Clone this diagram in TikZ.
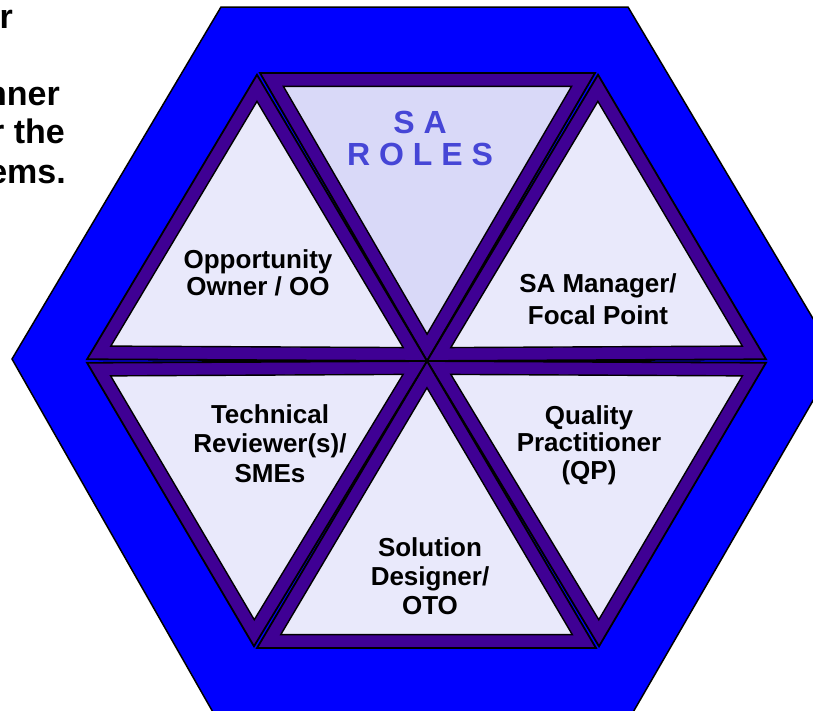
\documentclass[tikz,border=0pt]{standalone}
\usepackage{fontspec}
\setmainfont{Liberation Sans}
\usetikzlibrary{calc}
\definecolor{hexblue}{HTML}{0000FF}
\definecolor{rolepurple}{HTML}{3F0094}
\definecolor{rolefill}{HTML}{E9E9FB}
\definecolor{topfill}{HTML}{D9D9F8}
\definecolor{titleblue}{HTML}{4646D6}
\begin{document}
\begin{tikzpicture}[x=1pt,y=-1pt]
	% Set styles
	\tikzset{
		hex frame/.style={draw=black, line width=1.5pt, fill=hexblue},
		role band/.style={draw=black, line width=1.8pt, line join=miter, fill=rolepurple},
		role face/.style={draw=black, line width=1.4pt, line join=miter},
		role label/.style={font=\bfseries\fontsize{26}{29.5}\selectfont, align=center, inner sep=0pt, anchor=base},
		side text/.style={font=\bfseries\fontsize{34}{40}\selectfont, inner sep=0pt, anchor=base east}
	}
	\useasboundingbox (0,0) rectangle (813,710);
	
	% Outer hexagon
	\draw [hex frame] (221,7) -- (628,7) -- (837,359) -- (632,714) -- (214,714) -- (12,359) -- cycle;
	
	% Corners of the inner hexagon
	\coordinate (C) at (427,361);
	\coordinate (V1) at (258,73);
	\coordinate (V2) at (597,73);
	\coordinate (V3) at (767,361);
	\coordinate (V4) at (598,648);
	\coordinate (V5) at (255,648);
	\coordinate (V6) at (86,361);
	
	% The six role triangles
	\foreach \a/\b/\f in {V1/V2/topfill, V2/V3/rolefill, V3/V4/rolefill, V4/V5/rolefill, V5/V6/rolefill, V6/V1/rolefill} {
		\coordinate (A) at ($(\a)!2pt!(\b)$);
		\coordinate (B) at ($(\b)!2pt!(\a)$);
		\coordinate (G) at ($(C)!2/3!($(A)!0.5!(B)$)$);
		\draw [role band] (C) -- (A) -- (B) -- cycle;
		\draw [role face, fill=\f] ($(G)!0.86!(C)$) -- ($(G)!0.86!(A)$) -- ($(G)!0.86!(B)$) -- cycle;
	}
	
	% Labels for the roles (anchored at the baseline of the last line)
	\node [role label, font=\bfseries\fontsize{32}{32}\selectfont, text=titleblue] (title) at (420,165) {S A\\R O L E S};
	\node [role label, font=\bfseries\fontsize{26}{27}\selectfont] (owner) at (258,295) {Opportunity\\Owner / OO};
	\node [role label, font=\bfseries\fontsize{26}{32}\selectfont] (manager) at (598,324) {SA Manager/\\Focal Point};
	\node [role label] (reviewer) at (270,482) {Technical\\Reviewer(s)/\\SMEs};
	\node [role label, font=\bfseries\fontsize{26}{27.5}\selectfont] (quality) at (589,479) {Quality\\Practitioner\\(QP)};
	\node [role label, font=\bfseries\fontsize{26}{29}\selectfont] (designer) at (430,614) {Solution\\Designer/\\OTO};
	
	% Text cut off at the left edge
	\node [side text] (side1) at (13,28) {or};
	\node [side text] (side2) at (60,105) {nner};
	\node [side text] (side3) at (65,143) {r the};
	\node [side text] (side4) at (66,183) {ems.};
\end{tikzpicture}
\end{document}
